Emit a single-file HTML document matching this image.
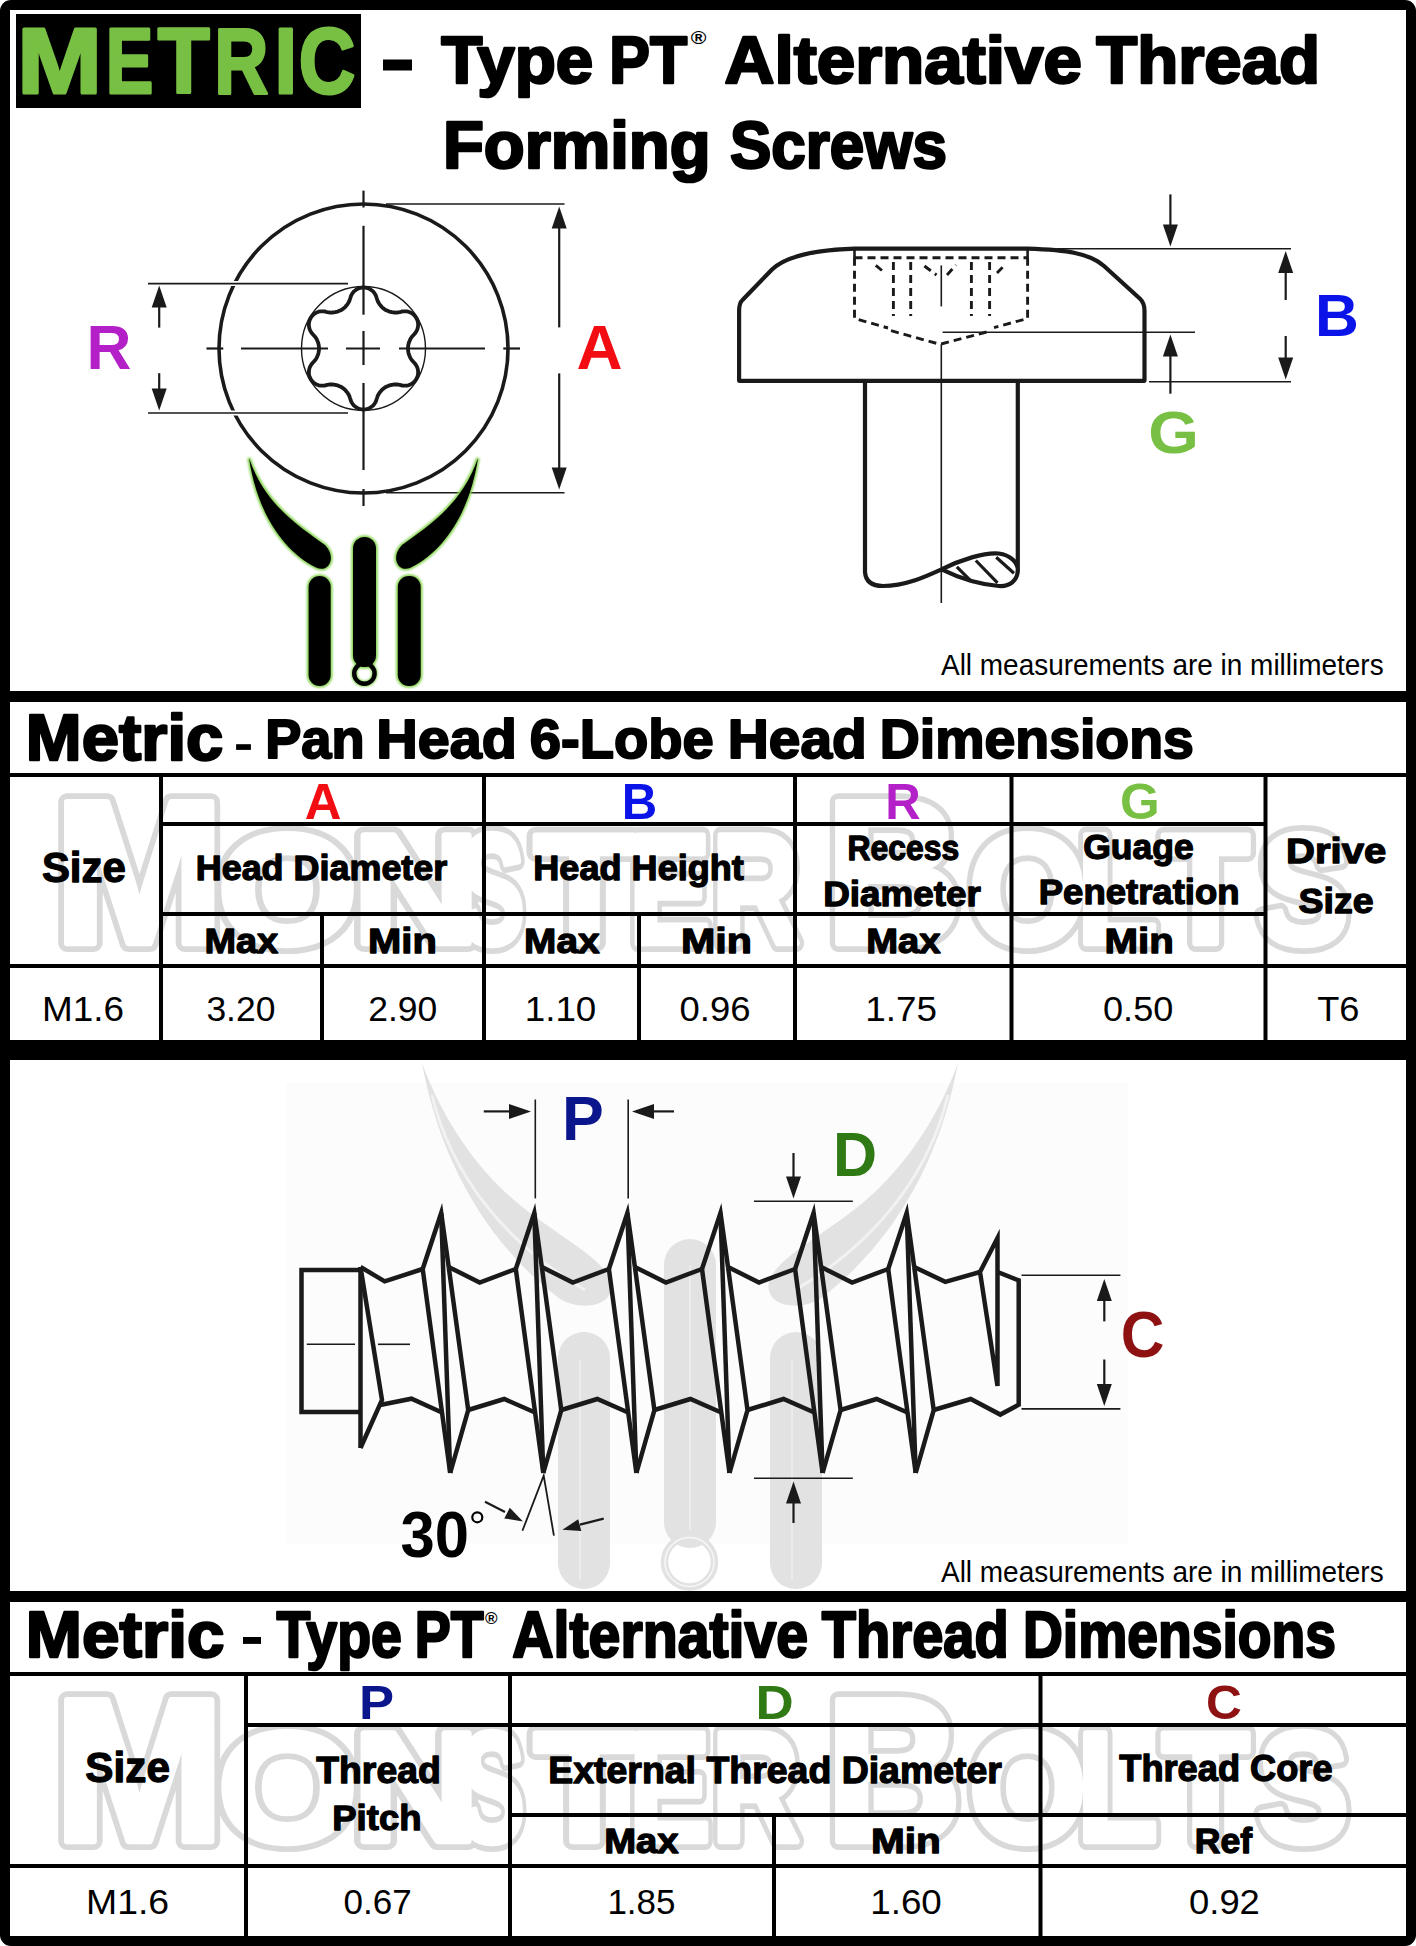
<!DOCTYPE html>
<html><head><meta charset="utf-8"><style>
html,body{margin:0;padding:0;background:#fff;}
svg{display:block;}
text{font-family:"Liberation Sans",sans-serif;}
</style></head><body>
<svg width="1416" height="1946" viewBox="0 0 1416 1946"><defs><filter id="glow" x="-20%" y="-20%" width="140%" height="140%"><feGaussianBlur stdDeviation="0.9"/></filter></defs>
<rect x="0" y="0" width="1416" height="1946" rx="11" ry="11" fill="#000"/>

<rect x="10" y="10" width="1396" height="1926" fill="#fff"/>

<rect x="286" y="1083" width="842" height="460.5" fill="#fcfcfc"/>

<rect x="10" y="691" width="1396" height="11" fill="#000"/>

<rect x="10" y="1040" width="1396" height="20" fill="#000"/>

<rect x="10" y="1591" width="1396" height="11" fill="#000"/>

<rect x="16" y="14" width="345" height="94" fill="#000"/>

<text x="17.29" y="92.50" font-size="93.16" font-weight="bold" fill="#78c043" textLength="84.73" lengthAdjust="spacingAndGlyphs" stroke="#78c043" stroke-width="3" stroke-linejoin="round">M</text>

<text x="105.76" y="92.50" font-size="93.16" font-weight="bold" fill="#78c043" textLength="47.58" lengthAdjust="spacingAndGlyphs" stroke="#78c043" stroke-width="3" stroke-linejoin="round">E</text>

<text x="157.75" y="92.50" font-size="93.16" font-weight="bold" fill="#78c043" textLength="51.97" lengthAdjust="spacingAndGlyphs" stroke="#78c043" stroke-width="3" stroke-linejoin="round">T</text>

<text x="214.33" y="92.50" font-size="93.16" font-weight="bold" fill="#78c043" textLength="54.14" lengthAdjust="spacingAndGlyphs" stroke="#78c043" stroke-width="3" stroke-linejoin="round">R</text>

<text x="274.41" y="92.50" font-size="93.16" font-weight="bold" fill="#78c043" textLength="22.61" lengthAdjust="spacingAndGlyphs" stroke="#78c043" stroke-width="3" stroke-linejoin="round">I</text>

<text x="298.87" y="92.50" font-size="93.16" font-weight="bold" fill="#78c043" textLength="56.56" lengthAdjust="spacingAndGlyphs" stroke="#78c043" stroke-width="3" stroke-linejoin="round">C</text>

<rect x="383" y="59.5" width="29" height="11" fill="#000"/>

<text x="441.13" y="82.70" font-size="67.54" font-weight="bold" fill="#000" textLength="152.12" lengthAdjust="spacingAndGlyphs" stroke="#000" stroke-width="2.6" stroke-linejoin="round">Type</text>

<text x="609.34" y="82.70" font-size="67.54" font-weight="bold" fill="#000" textLength="77.84" lengthAdjust="spacingAndGlyphs" stroke="#000" stroke-width="2.6" stroke-linejoin="round">PT</text>

<text x="690.68" y="44.20" font-size="18.20" font-weight="bold" fill="#000" textLength="15.68" lengthAdjust="spacingAndGlyphs">®</text>

<text x="724.57" y="82.70" font-size="67.54" font-weight="bold" fill="#000" textLength="357.30" lengthAdjust="spacingAndGlyphs" stroke="#000" stroke-width="2.6" stroke-linejoin="round">Alternative</text>

<text x="1096.13" y="82.70" font-size="67.54" font-weight="bold" fill="#000" textLength="223.87" lengthAdjust="spacingAndGlyphs" stroke="#000" stroke-width="2.6" stroke-linejoin="round">Thread</text>

<text x="442.95" y="168.30" font-size="66.08" font-weight="bold" fill="#000" textLength="267.57" lengthAdjust="spacingAndGlyphs" stroke="#000" stroke-width="2.6" stroke-linejoin="round">Forming</text>

<text x="729.94" y="168.30" font-size="66.08" font-weight="bold" fill="#000" textLength="216.89" lengthAdjust="spacingAndGlyphs" stroke="#000" stroke-width="2.6" stroke-linejoin="round">Screws</text>

<text x="941.00" y="674.80" font-size="29.55" font-weight="normal" fill="#000" textLength="442.63" lengthAdjust="spacingAndGlyphs">All measurements are in millimeters</text>

<text x="941.00" y="1582.00" font-size="29.55" font-weight="normal" fill="#000" textLength="442.63" lengthAdjust="spacingAndGlyphs">All measurements are in millimeters</text>

<text x="25.84" y="760.20" font-size="64.34" font-weight="bold" fill="#000" textLength="197.50" lengthAdjust="spacingAndGlyphs" stroke="#000" stroke-width="2.4" stroke-linejoin="round">Metric</text>

<rect x="236.1" y="744.2" width="14.8" height="5.7" fill="#000"/>

<text x="265.18" y="757.50" font-size="54.59" font-weight="bold" fill="#000" textLength="99.32" lengthAdjust="spacingAndGlyphs" stroke="#000" stroke-width="2.0" stroke-linejoin="round">Pan</text>

<text x="376.16" y="757.50" font-size="54.59" font-weight="bold" fill="#000" textLength="140.70" lengthAdjust="spacingAndGlyphs" stroke="#000" stroke-width="2.0" stroke-linejoin="round">Head</text>

<text x="529.74" y="757.50" font-size="54.59" font-weight="bold" fill="#000" textLength="184.00" lengthAdjust="spacingAndGlyphs" stroke="#000" stroke-width="2.0" stroke-linejoin="round">6-Lobe</text>

<text x="727.70" y="757.50" font-size="54.59" font-weight="bold" fill="#000" textLength="139.12" lengthAdjust="spacingAndGlyphs" stroke="#000" stroke-width="2.0" stroke-linejoin="round">Head</text>

<text x="879.80" y="757.50" font-size="54.59" font-weight="bold" fill="#000" textLength="314.09" lengthAdjust="spacingAndGlyphs" stroke="#000" stroke-width="2.0" stroke-linejoin="round">Dimensions</text>

<text x="53.63" y="942.50" font-size="204.51" font-weight="bold" fill="none" textLength="171.37" lengthAdjust="spacingAndGlyphs" stroke="#d9d9d9" stroke-width="18" stroke-linejoin="round">M</text>
<text x="217.81" y="942.50" font-size="155.02" font-weight="bold" fill="none" textLength="139.89" lengthAdjust="spacingAndGlyphs" stroke="#d9d9d9" stroke-width="18" stroke-linejoin="round">O</text>
<text x="352.54" y="942.50" font-size="155.02" font-weight="bold" fill="none" textLength="127.30" lengthAdjust="spacingAndGlyphs" stroke="#d9d9d9" stroke-width="18" stroke-linejoin="round">N</text>
<text x="459.05" y="942.50" font-size="155.02" font-weight="bold" fill="none" textLength="65.59" lengthAdjust="spacingAndGlyphs" stroke="#d9d9d9" stroke-width="18" stroke-linejoin="round">S</text>
<text x="534.36" y="942.50" font-size="155.02" font-weight="bold" fill="none" textLength="100.43" lengthAdjust="spacingAndGlyphs" stroke="#d9d9d9" stroke-width="18" stroke-linejoin="round">T</text>
<text x="629.06" y="942.50" font-size="155.02" font-weight="bold" fill="none" textLength="81.46" lengthAdjust="spacingAndGlyphs" stroke="#d9d9d9" stroke-width="18" stroke-linejoin="round">E</text>
<text x="712.12" y="942.50" font-size="155.02" font-weight="bold" fill="none" textLength="87.57" lengthAdjust="spacingAndGlyphs" stroke="#d9d9d9" stroke-width="18" stroke-linejoin="round">R</text>
<text x="825.44" y="942.50" font-size="204.51" font-weight="bold" fill="none" textLength="136.27" lengthAdjust="spacingAndGlyphs" stroke="#d9d9d9" stroke-width="18" stroke-linejoin="round">B</text>
<text x="968.97" y="942.50" font-size="155.02" font-weight="bold" fill="none" textLength="117.29" lengthAdjust="spacingAndGlyphs" stroke="#d9d9d9" stroke-width="18" stroke-linejoin="round">O</text>
<text x="1077.03" y="942.50" font-size="155.02" font-weight="bold" fill="none" textLength="80.54" lengthAdjust="spacingAndGlyphs" stroke="#d9d9d9" stroke-width="18" stroke-linejoin="round">L</text>
<text x="1161.97" y="942.50" font-size="155.02" font-weight="bold" fill="none" textLength="87.28" lengthAdjust="spacingAndGlyphs" stroke="#d9d9d9" stroke-width="18" stroke-linejoin="round">T</text>
<text x="1257.59" y="942.50" font-size="155.02" font-weight="bold" fill="none" textLength="91.49" lengthAdjust="spacingAndGlyphs" stroke="#d9d9d9" stroke-width="18" stroke-linejoin="round">S</text>
<text x="53.63" y="942.50" font-size="204.51" font-weight="bold" fill="#fff" textLength="171.37" lengthAdjust="spacingAndGlyphs" stroke="#fff" stroke-width="6.5" stroke-linejoin="round">M</text>
<text x="217.81" y="942.50" font-size="155.02" font-weight="bold" fill="#fff" textLength="139.89" lengthAdjust="spacingAndGlyphs" stroke="#fff" stroke-width="6.5" stroke-linejoin="round">O</text>
<text x="352.54" y="942.50" font-size="155.02" font-weight="bold" fill="#fff" textLength="127.30" lengthAdjust="spacingAndGlyphs" stroke="#fff" stroke-width="6.5" stroke-linejoin="round">N</text>
<text x="459.05" y="942.50" font-size="155.02" font-weight="bold" fill="#fff" textLength="65.59" lengthAdjust="spacingAndGlyphs" stroke="#fff" stroke-width="6.5" stroke-linejoin="round">S</text>
<text x="534.36" y="942.50" font-size="155.02" font-weight="bold" fill="#fff" textLength="100.43" lengthAdjust="spacingAndGlyphs" stroke="#fff" stroke-width="6.5" stroke-linejoin="round">T</text>
<text x="629.06" y="942.50" font-size="155.02" font-weight="bold" fill="#fff" textLength="81.46" lengthAdjust="spacingAndGlyphs" stroke="#fff" stroke-width="6.5" stroke-linejoin="round">E</text>
<text x="712.12" y="942.50" font-size="155.02" font-weight="bold" fill="#fff" textLength="87.57" lengthAdjust="spacingAndGlyphs" stroke="#fff" stroke-width="6.5" stroke-linejoin="round">R</text>
<text x="825.44" y="942.50" font-size="204.51" font-weight="bold" fill="#fff" textLength="136.27" lengthAdjust="spacingAndGlyphs" stroke="#fff" stroke-width="6.5" stroke-linejoin="round">B</text>
<text x="968.97" y="942.50" font-size="155.02" font-weight="bold" fill="#fff" textLength="117.29" lengthAdjust="spacingAndGlyphs" stroke="#fff" stroke-width="6.5" stroke-linejoin="round">O</text>
<text x="1077.03" y="942.50" font-size="155.02" font-weight="bold" fill="#fff" textLength="80.54" lengthAdjust="spacingAndGlyphs" stroke="#fff" stroke-width="6.5" stroke-linejoin="round">L</text>
<text x="1161.97" y="942.50" font-size="155.02" font-weight="bold" fill="#fff" textLength="87.28" lengthAdjust="spacingAndGlyphs" stroke="#fff" stroke-width="6.5" stroke-linejoin="round">T</text>
<text x="1257.59" y="942.50" font-size="155.02" font-weight="bold" fill="#fff" textLength="91.49" lengthAdjust="spacingAndGlyphs" stroke="#fff" stroke-width="6.5" stroke-linejoin="round">S</text>

<text x="53.63" y="1840.50" font-size="204.51" font-weight="bold" fill="none" textLength="171.37" lengthAdjust="spacingAndGlyphs" stroke="#d9d9d9" stroke-width="18" stroke-linejoin="round">M</text>
<text x="217.81" y="1840.50" font-size="155.02" font-weight="bold" fill="none" textLength="139.89" lengthAdjust="spacingAndGlyphs" stroke="#d9d9d9" stroke-width="18" stroke-linejoin="round">O</text>
<text x="352.54" y="1840.50" font-size="155.02" font-weight="bold" fill="none" textLength="127.30" lengthAdjust="spacingAndGlyphs" stroke="#d9d9d9" stroke-width="18" stroke-linejoin="round">N</text>
<text x="459.05" y="1840.50" font-size="155.02" font-weight="bold" fill="none" textLength="65.59" lengthAdjust="spacingAndGlyphs" stroke="#d9d9d9" stroke-width="18" stroke-linejoin="round">S</text>
<text x="534.36" y="1840.50" font-size="155.02" font-weight="bold" fill="none" textLength="100.43" lengthAdjust="spacingAndGlyphs" stroke="#d9d9d9" stroke-width="18" stroke-linejoin="round">T</text>
<text x="629.06" y="1840.50" font-size="155.02" font-weight="bold" fill="none" textLength="81.46" lengthAdjust="spacingAndGlyphs" stroke="#d9d9d9" stroke-width="18" stroke-linejoin="round">E</text>
<text x="712.12" y="1840.50" font-size="155.02" font-weight="bold" fill="none" textLength="87.57" lengthAdjust="spacingAndGlyphs" stroke="#d9d9d9" stroke-width="18" stroke-linejoin="round">R</text>
<text x="825.44" y="1840.50" font-size="204.51" font-weight="bold" fill="none" textLength="136.27" lengthAdjust="spacingAndGlyphs" stroke="#d9d9d9" stroke-width="18" stroke-linejoin="round">B</text>
<text x="968.97" y="1840.50" font-size="155.02" font-weight="bold" fill="none" textLength="117.29" lengthAdjust="spacingAndGlyphs" stroke="#d9d9d9" stroke-width="18" stroke-linejoin="round">O</text>
<text x="1077.03" y="1840.50" font-size="155.02" font-weight="bold" fill="none" textLength="80.54" lengthAdjust="spacingAndGlyphs" stroke="#d9d9d9" stroke-width="18" stroke-linejoin="round">L</text>
<text x="1161.97" y="1840.50" font-size="155.02" font-weight="bold" fill="none" textLength="87.28" lengthAdjust="spacingAndGlyphs" stroke="#d9d9d9" stroke-width="18" stroke-linejoin="round">T</text>
<text x="1257.59" y="1840.50" font-size="155.02" font-weight="bold" fill="none" textLength="91.49" lengthAdjust="spacingAndGlyphs" stroke="#d9d9d9" stroke-width="18" stroke-linejoin="round">S</text>
<text x="53.63" y="1840.50" font-size="204.51" font-weight="bold" fill="#fff" textLength="171.37" lengthAdjust="spacingAndGlyphs" stroke="#fff" stroke-width="6.5" stroke-linejoin="round">M</text>
<text x="217.81" y="1840.50" font-size="155.02" font-weight="bold" fill="#fff" textLength="139.89" lengthAdjust="spacingAndGlyphs" stroke="#fff" stroke-width="6.5" stroke-linejoin="round">O</text>
<text x="352.54" y="1840.50" font-size="155.02" font-weight="bold" fill="#fff" textLength="127.30" lengthAdjust="spacingAndGlyphs" stroke="#fff" stroke-width="6.5" stroke-linejoin="round">N</text>
<text x="459.05" y="1840.50" font-size="155.02" font-weight="bold" fill="#fff" textLength="65.59" lengthAdjust="spacingAndGlyphs" stroke="#fff" stroke-width="6.5" stroke-linejoin="round">S</text>
<text x="534.36" y="1840.50" font-size="155.02" font-weight="bold" fill="#fff" textLength="100.43" lengthAdjust="spacingAndGlyphs" stroke="#fff" stroke-width="6.5" stroke-linejoin="round">T</text>
<text x="629.06" y="1840.50" font-size="155.02" font-weight="bold" fill="#fff" textLength="81.46" lengthAdjust="spacingAndGlyphs" stroke="#fff" stroke-width="6.5" stroke-linejoin="round">E</text>
<text x="712.12" y="1840.50" font-size="155.02" font-weight="bold" fill="#fff" textLength="87.57" lengthAdjust="spacingAndGlyphs" stroke="#fff" stroke-width="6.5" stroke-linejoin="round">R</text>
<text x="825.44" y="1840.50" font-size="204.51" font-weight="bold" fill="#fff" textLength="136.27" lengthAdjust="spacingAndGlyphs" stroke="#fff" stroke-width="6.5" stroke-linejoin="round">B</text>
<text x="968.97" y="1840.50" font-size="155.02" font-weight="bold" fill="#fff" textLength="117.29" lengthAdjust="spacingAndGlyphs" stroke="#fff" stroke-width="6.5" stroke-linejoin="round">O</text>
<text x="1077.03" y="1840.50" font-size="155.02" font-weight="bold" fill="#fff" textLength="80.54" lengthAdjust="spacingAndGlyphs" stroke="#fff" stroke-width="6.5" stroke-linejoin="round">L</text>
<text x="1161.97" y="1840.50" font-size="155.02" font-weight="bold" fill="#fff" textLength="87.28" lengthAdjust="spacingAndGlyphs" stroke="#fff" stroke-width="6.5" stroke-linejoin="round">T</text>
<text x="1257.59" y="1840.50" font-size="155.02" font-weight="bold" fill="#fff" textLength="91.49" lengthAdjust="spacingAndGlyphs" stroke="#fff" stroke-width="6.5" stroke-linejoin="round">S</text>

<text x="25.81" y="1657.30" font-size="64.19" font-weight="bold" fill="#000" textLength="198.74" lengthAdjust="spacingAndGlyphs" stroke="#000" stroke-width="2.4" stroke-linejoin="round">Metric</text>

<rect x="243" y="1637" width="18" height="6.9" fill="#000"/>

<text x="276.55" y="1657.30" font-size="64.19" font-weight="bold" fill="#000" textLength="125.39" lengthAdjust="spacingAndGlyphs" stroke="#000" stroke-width="2.4" stroke-linejoin="round">Type</text>

<text x="414.80" y="1657.30" font-size="64.19" font-weight="bold" fill="#000" textLength="68.90" lengthAdjust="spacingAndGlyphs" stroke="#000" stroke-width="2.4" stroke-linejoin="round">PT</text>

<text x="485.04" y="1624.00" font-size="16.74" font-weight="bold" fill="#000" textLength="12.54" lengthAdjust="spacingAndGlyphs">®</text>

<text x="512.27" y="1657.30" font-size="64.19" font-weight="bold" fill="#000" textLength="295.94" lengthAdjust="spacingAndGlyphs" stroke="#000" stroke-width="2.4" stroke-linejoin="round">Alternative</text>

<text x="821.84" y="1657.30" font-size="64.19" font-weight="bold" fill="#000" textLength="186.95" lengthAdjust="spacingAndGlyphs" stroke="#000" stroke-width="2.4" stroke-linejoin="round">Thread</text>

<text x="1023.01" y="1657.30" font-size="64.19" font-weight="bold" fill="#000" textLength="312.86" lengthAdjust="spacingAndGlyphs" stroke="#000" stroke-width="2.4" stroke-linejoin="round">Dimensions</text>

<rect x="10" y="773.0" width="1396" height="4" fill="#000"/>
<rect x="161" y="822.0" width="1104.5" height="4" fill="#000"/>
<rect x="161" y="912.0" width="1104.5" height="4" fill="#000"/>
<rect x="10" y="964.0" width="1396" height="4" fill="#000"/>
<rect x="159.0" y="775" width="4" height="265" fill="#000"/>
<rect x="482.0" y="775" width="4" height="265" fill="#000"/>
<rect x="793.0" y="775" width="4" height="265" fill="#000"/>
<rect x="1009.5" y="775" width="4" height="265" fill="#000"/>
<rect x="1263.5" y="775" width="4" height="265" fill="#000"/>
<rect x="320.0" y="914" width="4" height="126" fill="#000"/>
<rect x="637.0" y="914" width="4" height="126" fill="#000"/>
<rect x="10" y="1672.0" width="1396" height="4" fill="#000"/>
<rect x="246" y="1723.0" width="1160" height="4" fill="#000"/>
<rect x="510" y="1813.0" width="896" height="4" fill="#000"/>
<rect x="10" y="1864.0" width="1396" height="4" fill="#000"/>
<rect x="244.0" y="1674" width="4" height="262" fill="#000"/>
<rect x="508.0" y="1674" width="4" height="262" fill="#000"/>
<rect x="1038.5" y="1674" width="4" height="262" fill="#000"/>
<rect x="772.0" y="1815" width="4" height="121" fill="#000"/>
<text x="304.73" y="819.00" font-size="49.49" font-weight="bold" fill="#f20d12" textLength="36.65" lengthAdjust="spacingAndGlyphs">A</text>
<text x="621.80" y="819.00" font-size="49.49" font-weight="bold" fill="#0a14e8" textLength="35.52" lengthAdjust="spacingAndGlyphs">B</text>
<text x="885.31" y="818.60" font-size="49.49" font-weight="bold" fill="#b420c8" textLength="35.48" lengthAdjust="spacingAndGlyphs">R</text>
<text x="1119.96" y="818.60" font-size="49.49" font-weight="bold" fill="#78c043" textLength="39.75" lengthAdjust="spacingAndGlyphs">G</text>
<text x="41.89" y="881.85" font-size="43.23" font-weight="bold" fill="#000" textLength="83.97" lengthAdjust="spacingAndGlyphs" stroke="#000" stroke-width="1.3" stroke-linejoin="round">Size</text>
<text x="195.71" y="880.05" font-size="35.23" font-weight="bold" fill="#000" textLength="251.60" lengthAdjust="spacingAndGlyphs" stroke="#000" stroke-width="1.3" stroke-linejoin="round">Head Diameter</text>
<text x="533.30" y="880.35" font-size="35.23" font-weight="bold" fill="#000" textLength="210.56" lengthAdjust="spacingAndGlyphs" stroke="#000" stroke-width="1.3" stroke-linejoin="round">Head Height</text>
<text x="847.58" y="859.75" font-size="34.50" font-weight="bold" fill="#000" textLength="111.64" lengthAdjust="spacingAndGlyphs" stroke="#000" stroke-width="1.3" stroke-linejoin="round">Recess</text>
<text x="823.26" y="906.05" font-size="34.50" font-weight="bold" fill="#000" textLength="157.64" lengthAdjust="spacingAndGlyphs" stroke="#000" stroke-width="1.3" stroke-linejoin="round">Diameter</text>
<text x="1083.23" y="859.35" font-size="34.50" font-weight="bold" fill="#000" textLength="110.43" lengthAdjust="spacingAndGlyphs" stroke="#000" stroke-width="1.3" stroke-linejoin="round">Guage</text>
<text x="1038.78" y="904.35" font-size="34.50" font-weight="bold" fill="#000" textLength="200.81" lengthAdjust="spacingAndGlyphs" stroke="#000" stroke-width="1.3" stroke-linejoin="round">Penetration</text>
<text x="1286.04" y="863.35" font-size="35.23" font-weight="bold" fill="#000" textLength="100.27" lengthAdjust="spacingAndGlyphs" stroke="#000" stroke-width="1.3" stroke-linejoin="round">Drive</text>
<text x="1298.52" y="912.85" font-size="35.95" font-weight="bold" fill="#000" textLength="75.18" lengthAdjust="spacingAndGlyphs" stroke="#000" stroke-width="1.3" stroke-linejoin="round">Size</text>
<text x="204.49" y="953.05" font-size="35.95" font-weight="bold" fill="#000" textLength="73.67" lengthAdjust="spacingAndGlyphs" stroke="#000" stroke-width="1.3" stroke-linejoin="round">Max</text>
<text x="368.05" y="953.05" font-size="35.95" font-weight="bold" fill="#000" textLength="68.76" lengthAdjust="spacingAndGlyphs" stroke="#000" stroke-width="1.3" stroke-linejoin="round">Min</text>
<text x="524.13" y="953.05" font-size="35.95" font-weight="bold" fill="#000" textLength="75.43" lengthAdjust="spacingAndGlyphs" stroke="#000" stroke-width="1.3" stroke-linejoin="round">Max</text>
<text x="680.97" y="953.05" font-size="35.95" font-weight="bold" fill="#000" textLength="70.92" lengthAdjust="spacingAndGlyphs" stroke="#000" stroke-width="1.3" stroke-linejoin="round">Min</text>
<text x="866.16" y="953.05" font-size="35.95" font-weight="bold" fill="#000" textLength="74.39" lengthAdjust="spacingAndGlyphs" stroke="#000" stroke-width="1.3" stroke-linejoin="round">Max</text>
<text x="1104.53" y="953.05" font-size="35.95" font-weight="bold" fill="#000" textLength="69.30" lengthAdjust="spacingAndGlyphs" stroke="#000" stroke-width="1.3" stroke-linejoin="round">Min</text>
<text x="42.05" y="1021.30" font-size="35.66" font-weight="normal" fill="#000" textLength="82.05" lengthAdjust="spacingAndGlyphs">M1.6</text>
<text x="206.38" y="1021.30" font-size="35.66" font-weight="normal" fill="#000" textLength="69.01" lengthAdjust="spacingAndGlyphs">3.20</text>
<text x="368.23" y="1021.30" font-size="35.66" font-weight="normal" fill="#000" textLength="69.06" lengthAdjust="spacingAndGlyphs">2.90</text>
<text x="524.74" y="1021.30" font-size="35.66" font-weight="normal" fill="#000" textLength="71.60" lengthAdjust="spacingAndGlyphs">1.10</text>
<text x="679.54" y="1021.30" font-size="35.66" font-weight="normal" fill="#000" textLength="70.97" lengthAdjust="spacingAndGlyphs">0.96</text>
<text x="865.23" y="1021.30" font-size="35.66" font-weight="normal" fill="#000" textLength="71.79" lengthAdjust="spacingAndGlyphs">1.75</text>
<text x="1103.06" y="1021.30" font-size="35.66" font-weight="normal" fill="#000" textLength="70.26" lengthAdjust="spacingAndGlyphs">0.50</text>
<text x="1317.28" y="1021.30" font-size="35.66" font-weight="normal" fill="#000" textLength="42.25" lengthAdjust="spacingAndGlyphs">T6</text>
<text x="85.38" y="1781.85" font-size="41.78" font-weight="bold" fill="#000" textLength="84.49" lengthAdjust="spacingAndGlyphs" stroke="#000" stroke-width="1.3" stroke-linejoin="round">Size</text>
<text x="359.08" y="1719.00" font-size="48.03" font-weight="bold" fill="#0c168c" textLength="35.11" lengthAdjust="spacingAndGlyphs">P</text>
<text x="755.57" y="1719.00" font-size="48.03" font-weight="bold" fill="#2f7a14" textLength="38.16" lengthAdjust="spacingAndGlyphs">D</text>
<text x="1206.02" y="1719.00" font-size="48.03" font-weight="bold" fill="#8e1212" textLength="35.83" lengthAdjust="spacingAndGlyphs">C</text>
<text x="316.28" y="1783.35" font-size="36.68" font-weight="bold" fill="#000" textLength="124.46" lengthAdjust="spacingAndGlyphs" stroke="#000" stroke-width="1.3" stroke-linejoin="round">Thread</text>
<text x="332.28" y="1830.35" font-size="35.95" font-weight="bold" fill="#000" textLength="89.26" lengthAdjust="spacingAndGlyphs" stroke="#000" stroke-width="1.3" stroke-linejoin="round">Pitch</text>
<text x="548.22" y="1783.35" font-size="36.68" font-weight="bold" fill="#000" textLength="453.73" lengthAdjust="spacingAndGlyphs" stroke="#000" stroke-width="1.3" stroke-linejoin="round">External Thread Diameter</text>
<text x="1119.29" y="1780.85" font-size="36.68" font-weight="bold" fill="#000" textLength="213.34" lengthAdjust="spacingAndGlyphs" stroke="#000" stroke-width="1.3" stroke-linejoin="round">Thread Core</text>
<text x="604.16" y="1853.35" font-size="35.95" font-weight="bold" fill="#000" textLength="74.39" lengthAdjust="spacingAndGlyphs" stroke="#000" stroke-width="1.3" stroke-linejoin="round">Max</text>
<text x="871.01" y="1853.35" font-size="35.95" font-weight="bold" fill="#000" textLength="69.84" lengthAdjust="spacingAndGlyphs" stroke="#000" stroke-width="1.3" stroke-linejoin="round">Min</text>
<text x="1194.84" y="1853.35" font-size="35.95" font-weight="bold" fill="#000" textLength="57.39" lengthAdjust="spacingAndGlyphs" stroke="#000" stroke-width="1.3" stroke-linejoin="round">Ref</text>
<text x="86.01" y="1914.00" font-size="34.93" font-weight="normal" fill="#000" textLength="83.11" lengthAdjust="spacingAndGlyphs">M1.6</text>
<text x="343.60" y="1914.00" font-size="34.93" font-weight="normal" fill="#000" textLength="68.20" lengthAdjust="spacingAndGlyphs">0.67</text>
<text x="607.38" y="1914.00" font-size="34.93" font-weight="normal" fill="#000" textLength="68.07" lengthAdjust="spacingAndGlyphs">1.85</text>
<text x="870.24" y="1914.00" font-size="34.93" font-weight="normal" fill="#000" textLength="71.60" lengthAdjust="spacingAndGlyphs">1.60</text>
<text x="1189.04" y="1914.00" font-size="34.93" font-weight="normal" fill="#000" textLength="70.82" lengthAdjust="spacingAndGlyphs">0.92</text>

<circle cx="363.5" cy="348.5" r="144.5" fill="none" stroke="#1a1a1a" stroke-width="3.6"/>
<circle cx="363.5" cy="348.5" r="62" fill="none" stroke="#1a1a1a" stroke-width="1.4"/>
<polygon points="376.6,297.8 376.2,296.4 375.6,295.0 374.8,293.7 374.0,292.5 373.0,291.4 371.8,290.4 370.6,289.5 369.3,288.8 367.9,288.2 366.5,287.8 365.0,287.6 363.5,287.5 362.0,287.6 360.5,287.8 359.1,288.2 357.7,288.8 356.4,289.5 355.2,290.4 354.0,291.4 353.0,292.5 352.2,293.7 351.4,295.0 350.8,296.4 350.4,297.8 350.0,299.0 349.6,300.3 349.1,301.5 348.5,302.6 347.8,303.7 347.1,304.8 346.2,305.8 345.4,306.8 344.4,307.7 343.4,308.5 342.4,309.3 341.2,310.0 340.1,310.6 338.9,311.1 337.7,311.6 336.4,311.9 335.2,312.2 333.9,312.4 332.6,312.5 331.3,312.6 330.0,312.5 328.7,312.3 327.4,312.1 326.1,311.8 324.7,311.4 323.2,311.3 321.7,311.3 320.2,311.4 318.7,311.7 317.3,312.2 316.0,312.9 314.7,313.6 313.5,314.6 312.4,315.6 311.5,316.7 310.7,318.0 310.0,319.3 309.5,320.7 309.1,322.2 308.9,323.7 308.9,325.2 309.0,326.7 309.3,328.1 309.7,329.5 310.4,330.9 311.1,332.2 312.0,333.4 313.0,334.5 313.9,335.4 314.8,336.4 315.6,337.5 316.3,338.6 316.9,339.7 317.4,340.9 317.9,342.1 318.3,343.3 318.6,344.6 318.8,345.9 319.0,347.2 319.0,348.5 319.0,349.8 318.8,351.1 318.6,352.4 318.3,353.7 317.9,354.9 317.4,356.1 316.9,357.3 316.3,358.4 315.6,359.5 314.8,360.6 313.9,361.6 313.0,362.5 312.0,363.6 311.1,364.8 310.4,366.1 309.7,367.5 309.3,368.9 309.0,370.3 308.9,371.8 308.9,373.3 309.1,374.8 309.5,376.3 310.0,377.7 310.7,379.0 311.5,380.3 312.4,381.4 313.5,382.4 314.7,383.4 316.0,384.1 317.3,384.8 318.7,385.3 320.2,385.6 321.7,385.7 323.2,385.7 324.7,385.6 326.1,385.2 327.4,384.9 328.7,384.7 330.0,384.5 331.3,384.4 332.6,384.5 333.9,384.6 335.2,384.8 336.4,385.1 337.7,385.4 338.9,385.9 340.1,386.4 341.2,387.0 342.4,387.7 343.4,388.5 344.4,389.3 345.4,390.2 346.2,391.2 347.1,392.2 347.8,393.3 348.5,394.4 349.1,395.5 349.6,396.7 350.0,398.0 350.4,399.2 350.8,400.6 351.4,402.0 352.2,403.3 353.0,404.5 354.0,405.6 355.2,406.6 356.4,407.5 357.7,408.2 359.1,408.8 360.5,409.2 362.0,409.4 363.5,409.5 365.0,409.4 366.5,409.2 367.9,408.8 369.3,408.2 370.6,407.5 371.8,406.6 373.0,405.6 374.0,404.5 374.8,403.3 375.6,402.0 376.2,400.6 376.6,399.2 377.0,398.0 377.4,396.7 377.9,395.5 378.5,394.4 379.2,393.3 379.9,392.2 380.8,391.2 381.6,390.2 382.6,389.3 383.6,388.5 384.6,387.7 385.8,387.0 386.9,386.4 388.1,385.9 389.3,385.4 390.6,385.1 391.8,384.8 393.1,384.6 394.4,384.5 395.7,384.4 397.0,384.5 398.3,384.7 399.6,384.9 400.9,385.2 402.3,385.6 403.8,385.7 405.3,385.7 406.8,385.6 408.3,385.3 409.7,384.8 411.0,384.1 412.3,383.4 413.5,382.4 414.6,381.4 415.5,380.3 416.3,379.0 417.0,377.7 417.5,376.3 417.9,374.8 418.1,373.3 418.1,371.8 418.0,370.3 417.7,368.9 417.3,367.5 416.6,366.1 415.9,364.8 415.0,363.6 414.0,362.5 413.1,361.6 412.2,360.6 411.4,359.5 410.7,358.4 410.1,357.3 409.6,356.1 409.1,354.9 408.7,353.7 408.4,352.4 408.2,351.1 408.0,349.8 408.0,348.5 408.0,347.2 408.2,345.9 408.4,344.6 408.7,343.3 409.1,342.1 409.6,340.9 410.1,339.7 410.7,338.6 411.4,337.5 412.2,336.4 413.1,335.4 414.0,334.5 415.0,333.4 415.9,332.2 416.6,330.9 417.3,329.5 417.7,328.1 418.0,326.7 418.1,325.2 418.1,323.7 417.9,322.2 417.5,320.7 417.0,319.3 416.3,318.0 415.5,316.7 414.6,315.6 413.5,314.6 412.3,313.6 411.0,312.9 409.7,312.2 408.3,311.7 406.8,311.4 405.3,311.3 403.8,311.3 402.3,311.4 400.9,311.8 399.6,312.1 398.3,312.3 397.0,312.5 395.7,312.6 394.4,312.5 393.1,312.4 391.8,312.2 390.6,311.9 389.3,311.6 388.1,311.1 386.9,310.6 385.8,310.0 384.6,309.3 383.6,308.5 382.6,307.7 381.6,306.8 380.8,305.8 379.9,304.8 379.2,303.7 378.5,302.6 377.9,301.5 377.4,300.3 377.0,299.0" fill="none" stroke="#1a1a1a" stroke-width="3.8" stroke-linejoin="round"/>
<line x1="206.5" y1="348.5" x2="223.3" y2="348.5" stroke="#1a1a1a" stroke-width="2.2"/>
<line x1="241.0" y1="348.5" x2="328.0" y2="348.5" stroke="#1a1a1a" stroke-width="2.2"/>
<line x1="346.0" y1="348.5" x2="380.0" y2="348.5" stroke="#1a1a1a" stroke-width="2.2"/>
<line x1="399.0" y1="348.5" x2="485.0" y2="348.5" stroke="#1a1a1a" stroke-width="2.2"/>
<line x1="503.3" y1="348.5" x2="520.0" y2="348.5" stroke="#1a1a1a" stroke-width="2.2"/>
<line x1="363.5" y1="190.6" x2="363.5" y2="207.5" stroke="#1a1a1a" stroke-width="2.2"/>
<line x1="363.5" y1="225.8" x2="363.5" y2="314.7" stroke="#1a1a1a" stroke-width="2.2"/>
<line x1="363.5" y1="331.0" x2="363.5" y2="365.0" stroke="#1a1a1a" stroke-width="2.2"/>
<line x1="363.5" y1="383.0" x2="363.5" y2="470.0" stroke="#1a1a1a" stroke-width="2.2"/>
<line x1="363.5" y1="489.0" x2="363.5" y2="506.0" stroke="#1a1a1a" stroke-width="2.2"/>
<line x1="386.0" y1="204.0" x2="564.5" y2="204.0" stroke="#1a1a1a" stroke-width="1.6"/>
<line x1="386.0" y1="492.7" x2="564.5" y2="492.7" stroke="#1a1a1a" stroke-width="1.6"/>
<line x1="200.0" y1="283.6" x2="260.0" y2="283.6" stroke="#fff" stroke-width="5"/>
<line x1="148.0" y1="283.6" x2="348.0" y2="283.6" stroke="#1a1a1a" stroke-width="1.6"/>
<line x1="200.0" y1="413.0" x2="260.0" y2="413.0" stroke="#fff" stroke-width="5"/>
<line x1="148.0" y1="413.0" x2="348.0" y2="413.0" stroke="#1a1a1a" stroke-width="1.6"/>
<line x1="559.2" y1="220.0" x2="559.2" y2="327.4" stroke="#1a1a1a" stroke-width="2.2"/>
<polygon points="559.2,206.5 566.7,228.5 551.7,228.5" fill="#1a1a1a"/>
<line x1="559.2" y1="373.4" x2="559.2" y2="476.0" stroke="#1a1a1a" stroke-width="2.2"/>
<polygon points="559.2,489.4 551.7,467.4 566.7,467.4" fill="#1a1a1a"/>
<line x1="159.2" y1="300.0" x2="159.2" y2="327.6" stroke="#1a1a1a" stroke-width="2.2"/>
<polygon points="159.2,285.6 166.7,307.6 151.7,307.6" fill="#1a1a1a"/>
<line x1="159.2" y1="373.2" x2="159.2" y2="396.0" stroke="#1a1a1a" stroke-width="2.2"/>
<polygon points="159.2,410.6 151.7,388.6 166.7,388.6" fill="#1a1a1a"/>
<text x="576.60" y="369.30" font-size="62.15" font-weight="bold" fill="#f20d12" textLength="46.13" lengthAdjust="spacingAndGlyphs">A</text>
<text x="86.46" y="369.00" font-size="62.59" font-weight="bold" fill="#b420c8" textLength="44.92" lengthAdjust="spacingAndGlyphs">R</text>
<path d="M 739.1,380.8 L 739.1,311 Q 739.1,303 742.5,300 L 772,269.5 C 786,256 815,250 854.5,248.7 L 1027.6,248.7 C 1067,250 1089,253 1104,266 L 1140,298.8 Q 1144.5,303 1144.5,311 L 1144.5,380.8 Z" fill="none" stroke="#1a1a1a" stroke-width="4.2" stroke-linejoin="round"/>
<path d="M 865,382 L 865,572 Q 866,586 883,586 C 905,586 925,577 941.5,569.4 C 960,560 985,552 998.7,553.5 C 1010,555 1017.8,562 1017.8,570 L 1017.8,382" fill="none" stroke="#1a1a1a" stroke-width="4.2" stroke-linejoin="round"/>
<path d="M 941.5,569.4 C 955,576 975,584 998.7,586 C 1010,587 1017.8,580 1017.8,570" fill="none" stroke="#1a1a1a" stroke-width="4.2"/>
<line x1="956.8" y1="566.9" x2="970.8" y2="580.8" stroke="#1a1a1a" stroke-width="3.2"/>
<line x1="975.8" y1="560.5" x2="997.5" y2="582.8" stroke="#1a1a1a" stroke-width="3.2"/>
<line x1="996.2" y1="557.3" x2="1014.0" y2="573.2" stroke="#1a1a1a" stroke-width="3.2"/>
<line x1="941.3" y1="265.4" x2="941.3" y2="306.4" stroke="#1a1a1a" stroke-width="1.6"/>
<line x1="941.3" y1="344.3" x2="941.3" y2="603.0" stroke="#1a1a1a" stroke-width="1.6"/>
<path d="M 854.5,257.8 L 1027.6,257.8 M 854.5,257.8 L 854.5,318.5 L 888,328 M 1027.6,257.8 L 1027.6,318.5 L 994,327.6 M 891,330.7 L 940,344.3 L 988,331.6 M 893.4,262 L 893.4,316 M 910.7,262 L 910.7,316 M 971.4,262 L 971.4,316 M 989.6,262 L 989.6,316 M 875.8,265.4 L 885,273 M 924.4,266 L 936.5,275 M 947,275 L 956,265 M 997,273 L 1004.8,265" fill="none" stroke="#1a1a1a" stroke-width="2.9" stroke-dasharray="8,5"/>
<line x1="854.5" y1="248.7" x2="854.5" y2="258.0" stroke="#1a1a1a" stroke-width="2.6"/>
<line x1="1027.6" y1="248.7" x2="1027.6" y2="258.0" stroke="#1a1a1a" stroke-width="2.6"/>
<line x1="1056.4" y1="248.7" x2="1291.0" y2="248.7" stroke="#1a1a1a" stroke-width="1.6"/>
<line x1="1149.0" y1="381.7" x2="1291.0" y2="381.7" stroke="#1a1a1a" stroke-width="1.6"/>
<line x1="942.6" y1="332.2" x2="1195.0" y2="332.2" stroke="#1a1a1a" stroke-width="1.6"/>
<line x1="1285.7" y1="265.0" x2="1285.7" y2="300.0" stroke="#1a1a1a" stroke-width="2.2"/>
<polygon points="1285.7,251.0 1293.2,273.0 1278.2,273.0" fill="#1a1a1a"/>
<line x1="1285.7" y1="336.0" x2="1285.7" y2="366.0" stroke="#1a1a1a" stroke-width="2.2"/>
<polygon points="1285.7,379.5 1278.2,357.5 1293.2,357.5" fill="#1a1a1a"/>
<line x1="1170.4" y1="194.4" x2="1170.4" y2="230.0" stroke="#1a1a1a" stroke-width="2.2"/>
<polygon points="1170.4,246.5 1162.9,224.5 1177.9,224.5" fill="#1a1a1a"/>
<line x1="1170.4" y1="350.0" x2="1170.4" y2="393.7" stroke="#1a1a1a" stroke-width="2.2"/>
<polygon points="1170.4,334.5 1177.9,356.5 1162.9,356.5" fill="#1a1a1a"/>
<text x="1315.06" y="336.00" font-size="59.68" font-weight="bold" fill="#0a14e8" textLength="43.80" lengthAdjust="spacingAndGlyphs">B</text>
<text x="1148.39" y="452.50" font-size="58.95" font-weight="bold" fill="#78c043" textLength="50.70" lengthAdjust="spacingAndGlyphs">G</text>
<g fill="#88d452" stroke="#88d452" stroke-width="3.6" filter="url(#glow)"><path d="M 249,458 C 256,506 279,549 316,567.5 C 329,573.5 337,557 325,545 C 300,527 265,505 249,458 Z"/><path d="M 478,458 C 471,506 448,549 411,567.5 C 398,573.5 390,557 402,545 C 427,527 462,505 478,458 Z"/><rect x="353" y="537" width="23" height="130" rx="11.5"/><rect x="308.6" y="576" width="22.1" height="110" rx="11"/><rect x="397.8" y="576" width="22.9" height="110" rx="11"/><circle cx="364.4" cy="673.6" r="10.2" fill="none" stroke-width="6"/></g>
<g fill="#000" stroke="none"><path d="M 249,458 C 256,506 279,549 316,567.5 C 329,573.5 337,557 325,545 C 300,527 265,505 249,458 Z"/><path d="M 478,458 C 471,506 448,549 411,567.5 C 398,573.5 390,557 402,545 C 427,527 462,505 478,458 Z"/><rect x="353" y="537" width="23" height="130" rx="11.5"/><rect x="308.6" y="576" width="22.1" height="110" rx="11"/><rect x="397.8" y="576" width="22.9" height="110" rx="11"/></g><g stroke="#000"><circle cx="364.4" cy="673.6" r="10.2" fill="none" stroke-width="4.4"/></g>
<path d="M 422,1063 C 438,1152 482,1240 560,1299 C 582,1312 616,1306 611,1282 C 604,1256 545,1230 505,1192 C 468,1157 440,1112 422,1063 Z" fill="#e2e2e2"/><path d="M 958.0 1063.0 C 942.0 1152.0 898.0 1240.0 820.0 1299.0 C 798.0 1312.0 764.0 1306.0 769.0 1282.0 C 776.0 1256.0 835.0 1230.0 875.0 1192.0 C 912.0 1157.0 940.0 1112.0 958.0 1063.0 Z" fill="#e2e2e2"/><rect x="558" y="1332" width="52" height="257" rx="26" fill="#e2e2e2"/><rect x="770" y="1332" width="52" height="257" rx="26" fill="#e2e2e2"/><rect x="664" y="1239" width="52" height="309" rx="26" fill="#e2e2e2"/><circle cx="689.5" cy="1562" r="25" fill="none" stroke="#e2e2e2" stroke-width="7.5"/><circle cx="689.5" cy="1562" r="24.5" fill="none" stroke="#f7f7f7" stroke-width="1.5"/><path d="M 432,1095 C 450,1170 500,1240 585,1290" fill="none" stroke="#f2f2f2" stroke-width="3"/><path d="M 948.0 1095.0 C 930.0 1170.0 880.0 1240.0 795.0 1290.0" fill="none" stroke="#f2f2f2" stroke-width="3"/><line x1="580" y1="1360" x2="580" y2="1580" stroke="#ececec" stroke-width="2"/><line x1="690" y1="1265" x2="690" y2="1530" stroke="#ececec" stroke-width="2"/><line x1="792" y1="1360" x2="792" y2="1580" stroke="#ececec" stroke-width="2"/>
<polyline points="360.5,1270.0 301.5,1270.0 301.5,1412.0 360.5,1412.0" fill="none" stroke="#1a1a1a" stroke-width="4.5" stroke-linejoin="miter" stroke-miterlimit="10"/>
<line x1="306.8" y1="1344.3" x2="355.0" y2="1344.3" stroke="#1a1a1a" stroke-width="1.6"/>
<line x1="378.0" y1="1344.3" x2="410.0" y2="1344.3" stroke="#1a1a1a" stroke-width="1.6"/>
<polyline points="360.5,1267.0 360.5,1448.0" fill="none" stroke="#1a1a1a" stroke-width="4.5" stroke-linejoin="miter" stroke-miterlimit="10"/>
<polyline points="360.5,1267.0 382.0,1400.0 360.5,1448.0" fill="none" stroke="#1a1a1a" stroke-width="4.5" stroke-linejoin="miter" stroke-miterlimit="10"/>
<polyline points="360.5,1267.0 384.7,1281.4 422.7,1269.0" fill="none" stroke="#1a1a1a" stroke-width="4.5" stroke-linejoin="miter" stroke-miterlimit="10"/>
<polyline points="380.0,1405.0 411.5,1398.7 442.0,1412.5" fill="none" stroke="#1a1a1a" stroke-width="4.5" stroke-linejoin="miter" stroke-miterlimit="10"/>
<polyline points="422.7,1269.0 441.2,1213.0 448.7,1267.0" fill="none" stroke="#1a1a1a" stroke-width="4.5" stroke-linejoin="miter" stroke-miterlimit="10"/>
<polyline points="441.2,1213.0 450.2,1473.0" fill="none" stroke="#1a1a1a" stroke-width="4.5" stroke-linejoin="miter" stroke-miterlimit="10"/>
<polyline points="422.7,1269.0 442.0,1412.5 450.2,1473.0" fill="none" stroke="#1a1a1a" stroke-width="4.5" stroke-linejoin="miter" stroke-miterlimit="10"/>
<polyline points="448.7,1267.0 468.2,1410.0 450.2,1473.0" fill="none" stroke="#1a1a1a" stroke-width="4.5" stroke-linejoin="miter" stroke-miterlimit="10"/>
<polyline points="448.7,1267.0 479.7,1282.5 515.8,1269.0" fill="none" stroke="#1a1a1a" stroke-width="4.5" stroke-linejoin="miter" stroke-miterlimit="10"/>
<polyline points="468.2,1410.0 504.2,1399.0 535.1,1412.5" fill="none" stroke="#1a1a1a" stroke-width="4.5" stroke-linejoin="miter" stroke-miterlimit="10"/>
<polyline points="515.8,1269.0 534.3,1213.0 541.8,1267.0" fill="none" stroke="#1a1a1a" stroke-width="4.5" stroke-linejoin="miter" stroke-miterlimit="10"/>
<polyline points="534.3,1213.0 543.3,1473.0" fill="none" stroke="#1a1a1a" stroke-width="4.5" stroke-linejoin="miter" stroke-miterlimit="10"/>
<polyline points="515.8,1269.0 535.1,1412.5 543.3,1473.0" fill="none" stroke="#1a1a1a" stroke-width="4.5" stroke-linejoin="miter" stroke-miterlimit="10"/>
<polyline points="541.8,1267.0 561.3,1410.0 543.3,1473.0" fill="none" stroke="#1a1a1a" stroke-width="4.5" stroke-linejoin="miter" stroke-miterlimit="10"/>
<polyline points="541.8,1267.0 572.8,1282.5 608.9,1269.0" fill="none" stroke="#1a1a1a" stroke-width="4.5" stroke-linejoin="miter" stroke-miterlimit="10"/>
<polyline points="561.3,1410.0 597.3,1399.0 628.2,1412.5" fill="none" stroke="#1a1a1a" stroke-width="4.5" stroke-linejoin="miter" stroke-miterlimit="10"/>
<polyline points="608.9,1269.0 627.4,1213.0 634.9,1267.0" fill="none" stroke="#1a1a1a" stroke-width="4.5" stroke-linejoin="miter" stroke-miterlimit="10"/>
<polyline points="627.4,1213.0 636.4,1473.0" fill="none" stroke="#1a1a1a" stroke-width="4.5" stroke-linejoin="miter" stroke-miterlimit="10"/>
<polyline points="608.9,1269.0 628.2,1412.5 636.4,1473.0" fill="none" stroke="#1a1a1a" stroke-width="4.5" stroke-linejoin="miter" stroke-miterlimit="10"/>
<polyline points="634.9,1267.0 654.4,1410.0 636.4,1473.0" fill="none" stroke="#1a1a1a" stroke-width="4.5" stroke-linejoin="miter" stroke-miterlimit="10"/>
<polyline points="634.9,1267.0 665.9,1282.5 702.0,1269.0" fill="none" stroke="#1a1a1a" stroke-width="4.5" stroke-linejoin="miter" stroke-miterlimit="10"/>
<polyline points="654.4,1410.0 690.4,1399.0 721.3,1412.5" fill="none" stroke="#1a1a1a" stroke-width="4.5" stroke-linejoin="miter" stroke-miterlimit="10"/>
<polyline points="702.0,1269.0 720.5,1213.0 728.0,1267.0" fill="none" stroke="#1a1a1a" stroke-width="4.5" stroke-linejoin="miter" stroke-miterlimit="10"/>
<polyline points="720.5,1213.0 729.5,1473.0" fill="none" stroke="#1a1a1a" stroke-width="4.5" stroke-linejoin="miter" stroke-miterlimit="10"/>
<polyline points="702.0,1269.0 721.3,1412.5 729.5,1473.0" fill="none" stroke="#1a1a1a" stroke-width="4.5" stroke-linejoin="miter" stroke-miterlimit="10"/>
<polyline points="728.0,1267.0 747.5,1410.0 729.5,1473.0" fill="none" stroke="#1a1a1a" stroke-width="4.5" stroke-linejoin="miter" stroke-miterlimit="10"/>
<polyline points="728.0,1267.0 759.0,1282.5 795.1,1269.0" fill="none" stroke="#1a1a1a" stroke-width="4.5" stroke-linejoin="miter" stroke-miterlimit="10"/>
<polyline points="747.5,1410.0 783.5,1399.0 814.4,1412.5" fill="none" stroke="#1a1a1a" stroke-width="4.5" stroke-linejoin="miter" stroke-miterlimit="10"/>
<polyline points="795.1,1269.0 813.6,1213.0 821.1,1267.0" fill="none" stroke="#1a1a1a" stroke-width="4.5" stroke-linejoin="miter" stroke-miterlimit="10"/>
<polyline points="813.6,1213.0 822.6,1473.0" fill="none" stroke="#1a1a1a" stroke-width="4.5" stroke-linejoin="miter" stroke-miterlimit="10"/>
<polyline points="795.1,1269.0 814.4,1412.5 822.6,1473.0" fill="none" stroke="#1a1a1a" stroke-width="4.5" stroke-linejoin="miter" stroke-miterlimit="10"/>
<polyline points="821.1,1267.0 840.6,1410.0 822.6,1473.0" fill="none" stroke="#1a1a1a" stroke-width="4.5" stroke-linejoin="miter" stroke-miterlimit="10"/>
<polyline points="821.1,1267.0 852.1,1282.5 888.2,1269.0" fill="none" stroke="#1a1a1a" stroke-width="4.5" stroke-linejoin="miter" stroke-miterlimit="10"/>
<polyline points="840.6,1410.0 876.6,1399.0 907.5,1412.5" fill="none" stroke="#1a1a1a" stroke-width="4.5" stroke-linejoin="miter" stroke-miterlimit="10"/>
<polyline points="888.2,1269.0 906.7,1213.0 914.2,1267.0" fill="none" stroke="#1a1a1a" stroke-width="4.5" stroke-linejoin="miter" stroke-miterlimit="10"/>
<polyline points="906.7,1213.0 915.7,1473.0" fill="none" stroke="#1a1a1a" stroke-width="4.5" stroke-linejoin="miter" stroke-miterlimit="10"/>
<polyline points="888.2,1269.0 907.5,1412.5 915.7,1473.0" fill="none" stroke="#1a1a1a" stroke-width="4.5" stroke-linejoin="miter" stroke-miterlimit="10"/>
<polyline points="914.2,1267.0 933.7,1410.0 915.7,1473.0" fill="none" stroke="#1a1a1a" stroke-width="4.5" stroke-linejoin="miter" stroke-miterlimit="10"/>
<polyline points="914.2,1267.0 945.3,1281.8 980.0,1272.0" fill="none" stroke="#1a1a1a" stroke-width="4.5" stroke-linejoin="miter" stroke-miterlimit="10"/>
<polyline points="933.7,1410.0 970.7,1399.0 1000.3,1414.6 1018.7,1404.7 1018.7,1280.4 997.5,1272.0" fill="none" stroke="#1a1a1a" stroke-width="4.5" stroke-linejoin="miter" stroke-miterlimit="10"/>
<polyline points="980.0,1272.0 997.5,1238.0 997.5,1386.0 980.0,1272.0" fill="none" stroke="#1a1a1a" stroke-width="4.5" stroke-linejoin="miter" stroke-miterlimit="10"/>
<line x1="535.3" y1="1099.5" x2="535.3" y2="1198.4" stroke="#1a1a1a" stroke-width="1.6"/>
<line x1="628.2" y1="1099.5" x2="628.2" y2="1198.4" stroke="#1a1a1a" stroke-width="1.6"/>
<line x1="483.8" y1="1111.4" x2="512.0" y2="1111.4" stroke="#1a1a1a" stroke-width="2.2"/>
<polygon points="531.0,1111.4 509.0,1118.9 509.0,1103.9" fill="#1a1a1a"/>
<line x1="674.0" y1="1111.4" x2="650.0" y2="1111.4" stroke="#1a1a1a" stroke-width="2.2"/>
<polygon points="632.0,1111.4 654.0,1103.9 654.0,1118.9" fill="#1a1a1a"/>
<text x="561.93" y="1139.90" font-size="63.32" font-weight="bold" fill="#0c168c" textLength="41.78" lengthAdjust="spacingAndGlyphs">P</text>
<line x1="754.0" y1="1201.2" x2="852.8" y2="1201.2" stroke="#1a1a1a" stroke-width="1.6"/>
<line x1="754.0" y1="1478.3" x2="852.8" y2="1478.3" stroke="#1a1a1a" stroke-width="1.6"/>
<line x1="793.5" y1="1153.0" x2="793.5" y2="1180.0" stroke="#1a1a1a" stroke-width="2.2"/>
<polygon points="793.5,1198.4 786.0,1176.4 801.0,1176.4" fill="#1a1a1a"/>
<line x1="793.5" y1="1500.0" x2="793.5" y2="1523.0" stroke="#1a1a1a" stroke-width="2.2"/>
<polygon points="793.5,1481.4 801.0,1503.4 786.0,1503.4" fill="#1a1a1a"/>
<text x="833.03" y="1175.50" font-size="62.59" font-weight="bold" fill="#2f7a14" textLength="44.15" lengthAdjust="spacingAndGlyphs">D</text>
<line x1="1021.5" y1="1275.3" x2="1120.4" y2="1275.3" stroke="#1a1a1a" stroke-width="1.6"/>
<line x1="1021.5" y1="1408.9" x2="1120.4" y2="1408.9" stroke="#1a1a1a" stroke-width="1.6"/>
<line x1="1104.3" y1="1295.0" x2="1104.3" y2="1321.4" stroke="#1a1a1a" stroke-width="2.2"/>
<polygon points="1104.3,1279.0 1111.8,1301.0 1096.8,1301.0" fill="#1a1a1a"/>
<line x1="1104.3" y1="1359.5" x2="1104.3" y2="1388.0" stroke="#1a1a1a" stroke-width="2.2"/>
<polygon points="1104.3,1406.0 1096.8,1384.0 1111.8,1384.0" fill="#1a1a1a"/>
<text x="1120.78" y="1357.00" font-size="64.05" font-weight="bold" fill="#8e1212" textLength="43.66" lengthAdjust="spacingAndGlyphs">C</text>
<polyline points="522.4,1530.8 543.7,1475.6 553.9,1535.6" fill="none" stroke="#1a1a1a" stroke-width="1.8"/>
<line x1="485.0" y1="1501.7" x2="505.0" y2="1512.0" stroke="#1a1a1a" stroke-width="2.2"/>
<polygon points="523.0,1521.4 504.3,1518.4 509.8,1507.8" fill="#1a1a1a"/>
<line x1="603.7" y1="1518.6" x2="580.0" y2="1524.6" stroke="#1a1a1a" stroke-width="2.2"/>
<polygon points="562.4,1529.8 578.2,1519.3 581.3,1530.9" fill="#1a1a1a"/>
<text x="400.46" y="1557.00" font-size="64.05" font-weight="bold" fill="#000" textLength="68.55" lengthAdjust="spacingAndGlyphs">30</text>
<circle cx="477.3" cy="1517.3" r="5" fill="none" stroke="#000" stroke-width="2.2"/>

<rect x="10" y="1040" width="1396" height="20" fill="#000"/>

<rect x="10" y="1591" width="1396" height="11" fill="#000"/>

</svg></body></html>
